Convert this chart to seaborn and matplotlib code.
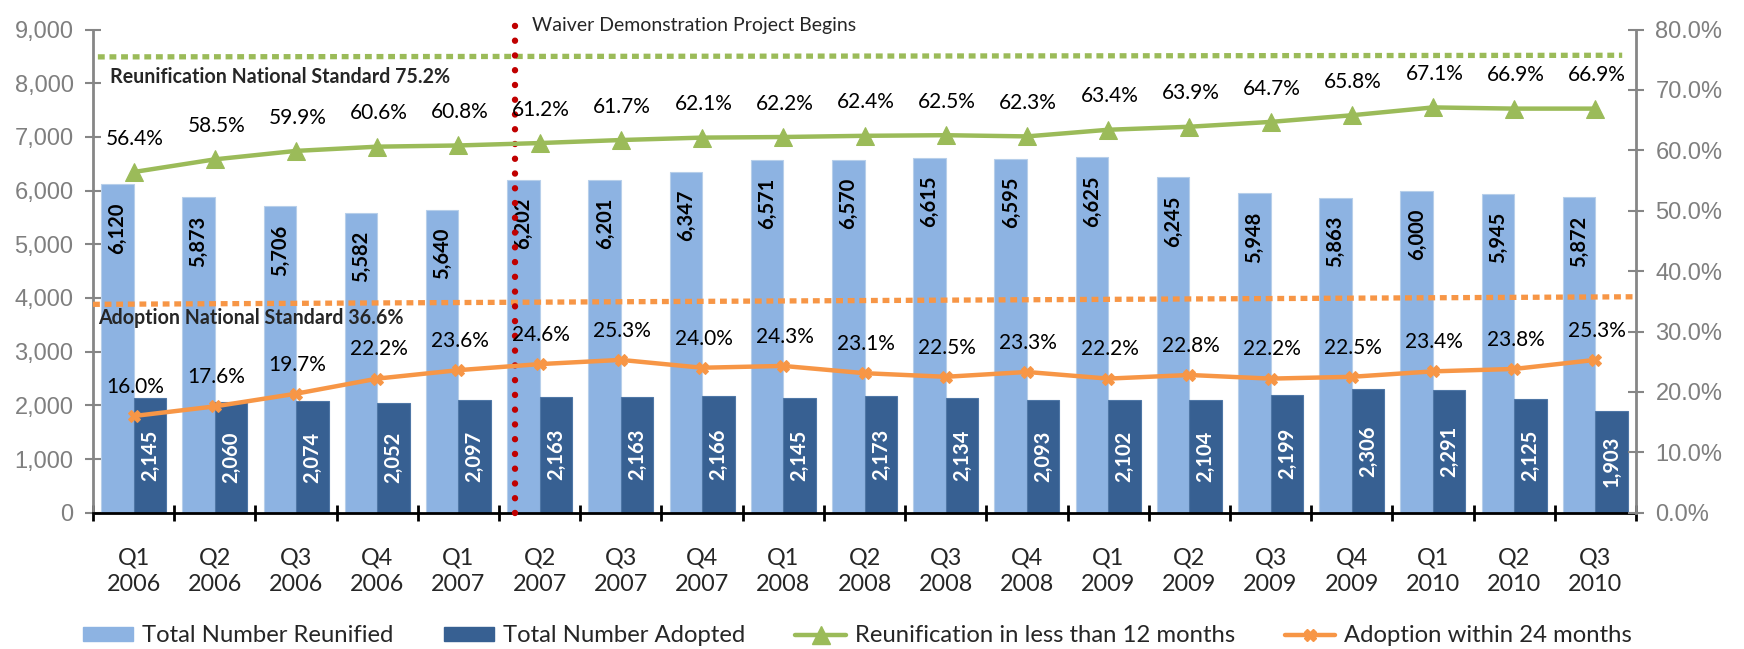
import numpy as np
import pandas as pd
import matplotlib
matplotlib.use("Agg")
import matplotlib.pyplot as plt
import seaborn as sns
from matplotlib.patches import Patch
from matplotlib.lines import Line2D

# ---------------- data ----------------
quarters = ["Q1\n2006", "Q2\n2006", "Q3\n2006", "Q4\n2006",
            "Q1\n2007", "Q2\n2007", "Q3\n2007", "Q4\n2007",
            "Q1\n2008", "Q2\n2008", "Q3\n2008", "Q4\n2008",
            "Q1\n2009", "Q2\n2009", "Q3\n2009", "Q4\n2009",
            "Q1\n2010", "Q2\n2010", "Q3\n2010"]
reunified = [6120, 5873, 5706, 5582, 5640, 6202, 6201, 6347, 6571, 6570,
             6615, 6595, 6625, 6245, 5948, 5863, 6000, 5945, 5872]
adopted = [2145, 2060, 2074, 2052, 2097, 2163, 2163, 2166, 2145, 2173,
           2134, 2093, 2102, 2104, 2199, 2306, 2291, 2125, 1903]
reunif_pct = [56.4, 58.5, 59.9, 60.6, 60.8, 61.2, 61.7, 62.1, 62.2, 62.4,
              62.5, 62.3, 63.4, 63.9, 64.7, 65.8, 67.1, 66.9, 66.9]
adopt_pct = [16.0, 17.6, 19.7, 22.2, 23.6, 24.6, 25.3, 24.0, 24.3, 23.1,
             22.5, 23.3, 22.2, 22.8, 22.2, 22.5, 23.4, 23.8, 25.3]
series_names = ["Total Number Reunified", "Total Number Adopted",
                "Reunification in less than 12 months", "Adoption within 24 months"]
reunif_std_label = "Reunification National Standard 75.2%"
adopt_std_label = "Adoption National Standard 36.6%"
waiver_label = "Waiver Demonstration Project Begins"
left_ticks = [0, 1000, 2000, 3000, 4000, 5000, 6000, 7000, 8000, 9000]
right_ticks = [0, 10, 20, 30, 40, 50, 60, 70, 80]

# ---------------- style ----------------
sns.set_style("white")
plt.rcParams["font.family"] = ["Lato", "DejaVu Sans"]

LIGHT = "#8DB3E2"
DARK = "#376092"
GREEN = "#9BBB59"
ORANGE = "#F79646"
RED = "#C00000"
GREY = "#868686"
TICKGREY = "#7F7F7F"
TICKFONT = ["Liberation Sans", "DejaVu Sans"]

fig = plt.figure(figsize=(17.44, 6.49), dpi=100)
ax = fig.add_axes([93 / 1744, 1 - 512.7 / 649, (1636 - 93) / 1744, (512.7 - 29.5) / 649])

n = len(quarters)
df = pd.DataFrame({
    "Quarter": quarters * 2,
    "Series": [series_names[0]] * n + [series_names[1]] * n,
    "Count": reunified + adopted,
})
sns.barplot(data=df, x="Quarter", y="Count", hue="Series",
            palette=[LIGHT, DARK], width=0.8, saturation=1, legend=False,
            edgecolor="#B7CFEA", linewidth=0.8, ax=ax)
for p in ax.patches[n:2 * n]:
    p.set_edgecolor("#4F77A6")

ax.set_xlim(-0.5, n - 0.5)
ax.set_ylim(0, 9000)
ax.set_xlabel("")
ax.set_ylabel("")

# bar labels
pos = np.arange(n)
for i, v in enumerate(reunified):
    ax.annotate(f"{v:,}", xy=(pos[i] - 0.2, v), xytext=(0, -13),
                textcoords="offset points", rotation=90, ha="center", va="top",
                fontsize=14.5, fontweight="bold", color="black", zorder=6)
for i, v in enumerate(adopted):
    ax.text(pos[i] + 0.2, v / 2, f"{v:,}", rotation=90, ha="center", va="center",
            fontsize=14.5, fontweight="bold", color="white", zorder=6)

# spines / ticks (left)
for s in ["top", "right"]:
    ax.spines[s].set_visible(False)
ax.spines["left"].set_color(GREY)
ax.spines["left"].set_linewidth(2)
ax.spines["bottom"].set_color("black")
ax.spines["bottom"].set_linewidth(2)
ax.set_yticks(left_ticks)
ax.set_yticklabels([f"{t:,}" for t in left_ticks], fontsize=17, color=TICKGREY,
                   family=TICKFONT)
ax.tick_params(axis="y", which="major", direction="inout", length=12, width=1.5,
               color=GREY, pad=8, left=True)
ax.set_xticks(pos)
ax.set_xticklabels(quarters, fontsize=16.8, linespacing=1.3)
ax.tick_params(axis="x", which="major", length=0, pad=25, bottom=True)
ax.set_xticks(np.arange(n + 1) - 0.5, minor=True)
ax.tick_params(axis="x", which="minor", direction="inout", length=12, width=2,
               color="black", bottom=True)

# national standards (dotted)
ax.plot([-0.44, 18.33], [8490, 8520], color=GREEN, lw=3.8,
        linestyle=(0, (1.3, 0.9)), zorder=5, clip_on=False)
ax.plot([-0.5, 18.5], [3881, 4022], color=ORANGE, lw=3.8,
        linestyle=(0, (1.3, 0.9)), zorder=5, clip_on=False)
ax.text(-0.29, 8110, reunif_std_label, fontsize=14.1, fontweight="bold",
        ha="left", va="center", zorder=7)
ax.text(-0.44, 3620, adopt_std_label, fontsize=14.1, fontweight="bold",
        ha="left", va="center", zorder=7)

# waiver vertical dotted line
ax.plot([4.7, 4.7], [0, 9305], color=RED, lw=4.6, linestyle=(0, (0.01, 2.3)),
        dash_capstyle="round", zorder=8, clip_on=False)
ax.text(4.9, 9080, waiver_label, fontsize=14, ha="left", va="center", zorder=7,
        clip_on=False)

# ---------------- right axis / lines ----------------
ax2 = ax.twinx()
sns.lineplot(x=pos, y=reunif_pct, color=GREEN, lw=3.2, marker="^", markersize=13,
             markeredgecolor=GREEN, ax=ax2, zorder=9)
sns.lineplot(x=pos, y=adopt_pct, color=ORANGE, lw=3.2, marker="X", markersize=9,
             markeredgecolor=ORANGE, ax=ax2, zorder=9)
ax2.set_ylim(0, 80)
ax2.set_xlim(-0.5, n - 0.5)
ax2.set_ylabel("")
for s in ["top", "left", "bottom"]:
    ax2.spines[s].set_visible(False)
ax2.spines["right"].set_color(GREY)
ax2.spines["right"].set_linewidth(2)
ax2.set_yticks(right_ticks)
ax2.set_yticklabels([f"{t:.1f}%" for t in right_ticks], fontsize=17, color=TICKGREY,
                    family=TICKFONT)
ax2.tick_params(axis="y", direction="inout", length=12, width=1.5, color=GREY,
                pad=8, right=True)

for i, v in enumerate(reunif_pct):
    ax2.annotate(f"{v:.1f}%", xy=(pos[i], v), xytext=(1, 24), textcoords="offset points",
                 ha="center", va="center", fontsize=15, color="black", zorder=10)
for i, v in enumerate(adopt_pct):
    ax2.annotate(f"{v:.1f}%", xy=(pos[i], v), xytext=(1, 21), textcoords="offset points",
                 ha="center", va="center", fontsize=15, color="black", zorder=10)

# ---------------- legend ----------------
handles = [
    Patch(facecolor=LIGHT, edgecolor=LIGHT),
    Patch(facecolor=DARK, edgecolor=DARK),
    Line2D([], [], color=GREEN, lw=3.2, marker="^", markersize=13),
    Line2D([], [], color=ORANGE, lw=3.2, marker="X", markersize=9),
]
fig.legend(handles, series_names, loc="center left",
           bbox_to_anchor=(83 / 1744, 1 - 636 / 649), ncol=4, frameon=False,
           fontsize=17.2, handlelength=2.1, handleheight=0.55, handletextpad=0.38,
           columnspacing=2.1, borderpad=0, borderaxespad=0)

fig.savefig("out.png", dpi=100)
